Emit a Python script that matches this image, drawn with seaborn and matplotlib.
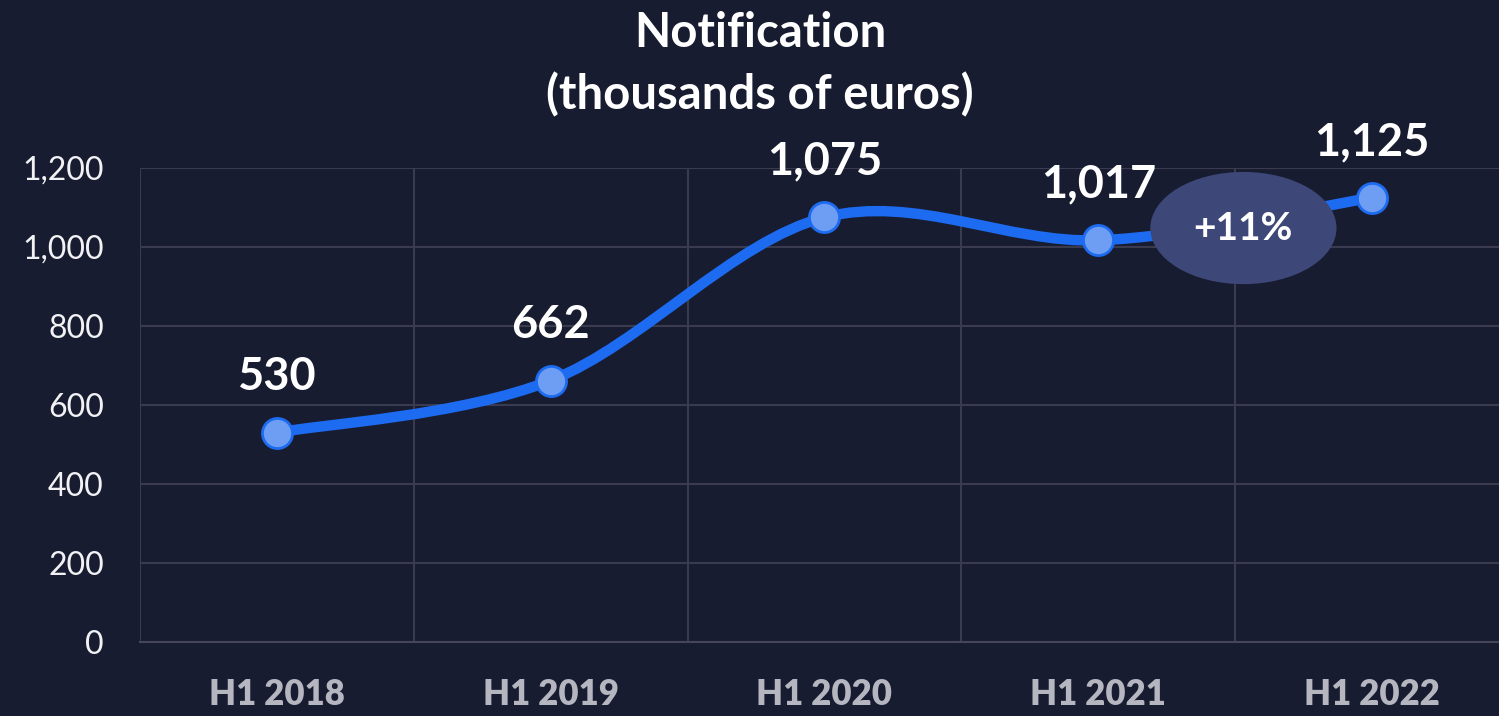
import numpy as np
import pandas as pd
import matplotlib
matplotlib.use("Agg")
import matplotlib.pyplot as plt
from matplotlib.path import Path
from matplotlib.patches import PathPatch, Ellipse
import seaborn as sns

categories = ["H1 2018", "H1 2019", "H1 2020", "H1 2021", "H1 2022"]
values = [530, 662, 1075, 1017, 1125]
value_labels = ["530", "662", "1,075", "1,017", "1,125"]
y_ticks = [0, 200, 400, 600, 800, 1000, 1200]
y_tick_labels = ["0", "200", "400", "600", "800", "1,000", "1,200"]
badge_text = "+11%"
title_lines = ["Notification", "(thousands of euros)"]

BG = "#181c30"
GRID = "#3a3b4e"
LINE = "#1c6bf0"
MFACE = "#6e9ef4"
BADGE = "#3d4879"

sns.set_theme(style="dark")
plt.rcParams["font.family"] = ["Lato", "DejaVu Sans"]

fig = plt.figure(figsize=(14.99, 7.16), dpi=100, facecolor=BG)
ax = fig.add_axes([140 / 1499, 1 - 642 / 716, 1 - 140 / 1499, (642 - 168) / 716])
ax.set_facecolor(BG)

df = pd.DataFrame({"x": np.arange(len(categories)), "y": values})

# smooth line via cubic Bezier (Catmull-Rom control points)
pts = df[["x", "y"]].to_numpy(dtype=float)
ext = np.vstack([pts[0], pts, pts[-1]])
verts = [tuple(pts[0])]
codes = [Path.MOVETO]
for i in range(len(pts) - 1):
    p0, p1, p2, p3 = ext[i], ext[i + 1], ext[i + 2], ext[i + 3]
    c1 = p1 + (p2 - p0) / 6.0
    c2 = p2 - (p3 - p1) / 6.0
    verts += [tuple(c1), tuple(c2), tuple(p2)]
    codes += [Path.CURVE4] * 3
ax.add_patch(PathPatch(Path(verts, codes), facecolor="none", edgecolor=LINE,
                       lw=7.5, capstyle="round", joinstyle="round", zorder=3))

sns.scatterplot(data=df, x="x", y="y", ax=ax, s=470, color=MFACE,
                edgecolor=LINE, linewidth=2, zorder=5, legend=False)

for xi, yi, lab in zip(df["x"], df["y"], value_labels):
    ax.annotate(lab, (xi, yi), xytext=(0, 25), textcoords="offset points",
                ha="center", va="bottom", color="white", fontsize=32.5,
                fontweight="bold", zorder=6)

# badge between last two points
bx = (df["x"].iloc[-2] + df["x"].iloc[-1]) / 2 + 0.03
by = (df["y"].iloc[-2] + df["y"].iloc[-1]) / 2 - 23
ax.add_patch(Ellipse((bx, by), width=0.68, height=284, facecolor=BADGE,
                     edgecolor="none", zorder=4))
ax.text(bx, by, badge_text, ha="center", va="center", color="white",
        fontsize=28, fontweight="bold", zorder=6)

ax.set_xticks(df["x"])
ax.set_xticklabels(categories)
ax.set_xticks(np.arange(-0.5, len(categories), 1.0), minor=True)
ax.set_yticks(y_ticks)
ax.set_yticklabels(y_tick_labels)
ax.set_xlim(-0.5, (1499 - 276) / 274)
ax.set_ylim(0, 1200)
ax.set_xlabel("")
ax.set_ylabel("")

ax.grid(False)
ax.grid(True, axis="y", which="major", color=GRID, lw=1.5, zorder=0)
ax.grid(True, axis="x", which="minor", color=GRID, lw=1.5, zorder=0)
ax.set_axisbelow(True)

for s in ["top", "right", "left"]:
    ax.spines[s].set_visible(False)
ax.spines["bottom"].set_color("#45465a")
ax.spines["bottom"].set_linewidth(1.5)

ax.tick_params(axis="y", which="both", length=0, pad=26, labelsize=23,
               labelcolor="#f2f2f5")
ax.tick_params(axis="x", which="both", length=0, pad=26, labelsize=25,
               labelcolor="#b5b6c0")
for t in ax.get_xticklabels():
    t.set_fontweight("heavy")

fig.text(760 / 1499, 1 - 33 / 716, title_lines[0], ha="center", va="center",
         color="white", fontsize=34, fontweight="bold")
fig.text(760 / 1499, 1 - 95 / 716, title_lines[1], ha="center", va="center",
         color="white", fontsize=34, fontweight="bold")

fig.savefig("out.png", dpi=100, facecolor=BG)
